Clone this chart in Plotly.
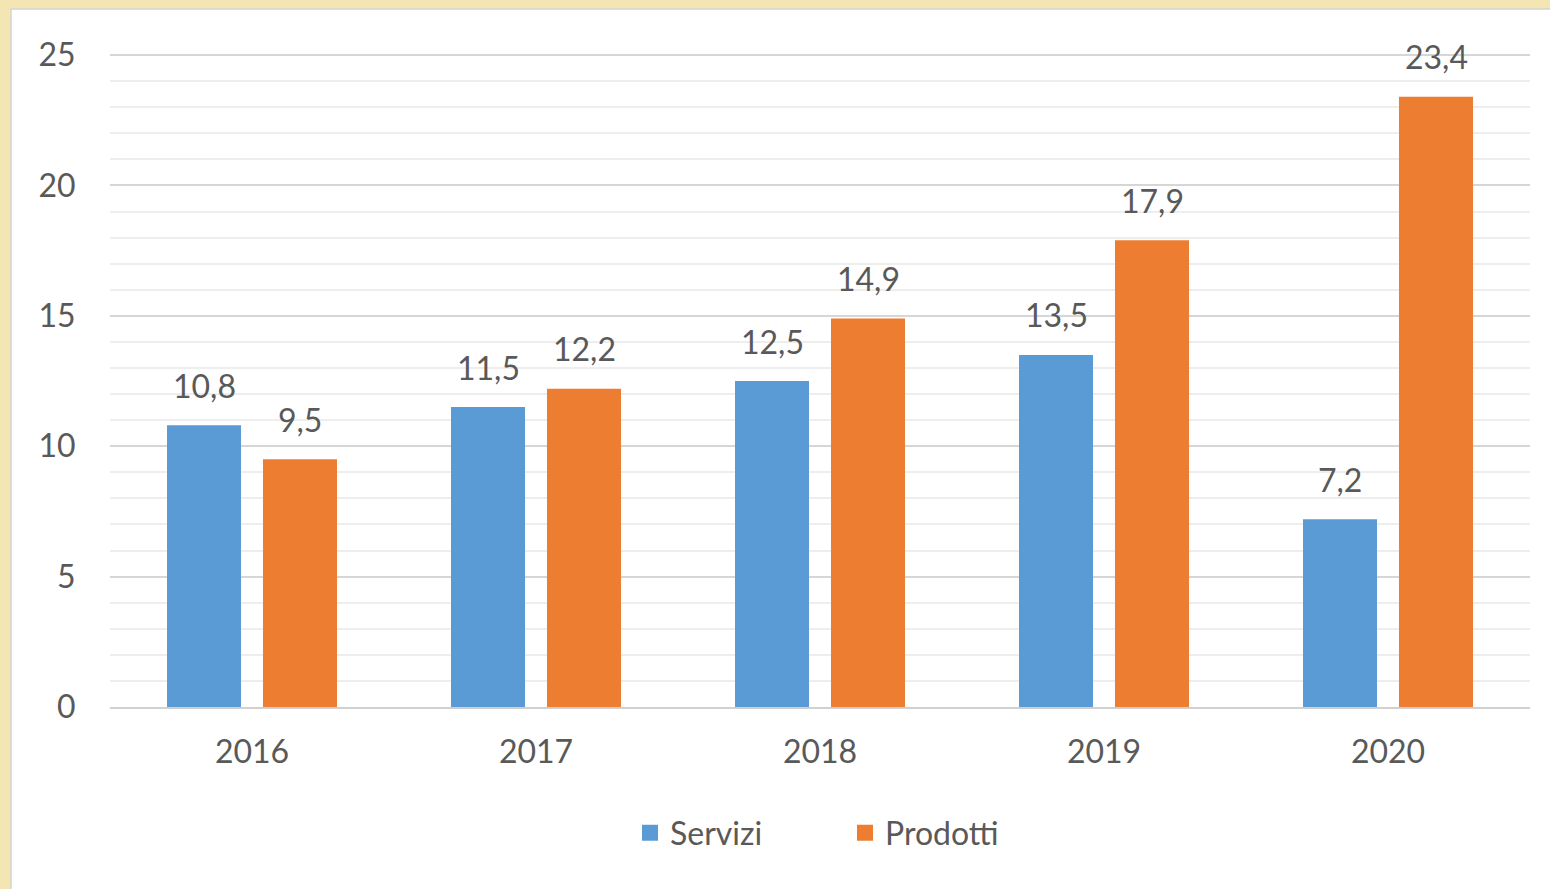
import plotly.graph_objects as go

years = ["2016", "2017", "2018", "2019", "2020"]
servizi = [10.8, 11.5, 12.5, 13.5, 7.2]
prodotti = [9.5, 12.2, 14.9, 17.9, 23.4]
series_names = ["Servizi", "Prodotti"]
colors = ["#5B9BD5", "#ED7D31"]

W, H = 1550, 889
L, R, T, B = 110, 20, 53, 182
BARGAP = 0.324
BARGROUPGAP = 0.229
FONT = "Lato"
TXT = "#595959"

def px(x):
    return (x - L) / (W - L - R)

def py(y):
    return (H - B - y) / (H - T - B)

fig = go.Figure()
for name, vals, col in zip(series_names, [servizi, prodotti], colors):
    fig.add_trace(go.Bar(x=years, y=vals, name=name, marker=dict(color=col, line=dict(width=0)),
                         showlegend=False, hoverinfo="skip"))
    fig.add_trace(go.Scatter(x=[None], y=[None], mode="markers", name=name,
                             marker=dict(symbol="square", size=20, color=col), showlegend=True))

slot = (1 - BARGAP) / 2
annotations = []
for k, vals in enumerate([servizi, prodotti]):
    off = -slot / 2 if k == 0 else slot / 2
    for j, v in enumerate(vals):
        annotations.append(dict(x=j + off, y=v, xref="x", yref="y",
                                text=f"{v:.1f}".replace(".", ","), showarrow=False,
                                yanchor="middle", yshift=40,
                                font=dict(family=FONT, size=32, color=TXT)))

fig.update_layout(
    width=W, height=H,
    margin=dict(l=L, r=R, t=T, b=B),
    paper_bgcolor="#F4E6B2",
    plot_bgcolor="rgba(0,0,0,0)",
    barmode="group", bargap=BARGAP, bargroupgap=BARGROUPGAP,
    separators=",.",
    font=dict(family=FONT, size=32, color=TXT),
    annotations=annotations,
    shapes=[dict(type="rect", xref="paper", yref="paper", layer="below",
                 x0=px(11), x1=px(W + 20), y0=py(H + 20), y1=py(9),
                 fillcolor="white", line=dict(color="#D4D4D4", width=1.5))],
    legend=dict(orientation="h", x=px(630), xanchor="left", y=py(833), yanchor="middle",
                font=dict(family=FONT, size=32, color=TXT), bgcolor="rgba(0,0,0,0)",
                itemwidth=30, tracegroupgap=0, entrywidth=170, entrywidthmode="pixels"),
    xaxis=dict(type="category", showgrid=False, showline=True, linecolor="#D0D0D0", linewidth=2,
               ticks="outside", ticklen=16, tickcolor="rgba(0,0,0,0)",
               tickfont=dict(family=FONT, size=32, color=TXT), zeroline=False),
    yaxis=dict(range=[0, 25.08], dtick=5, showgrid=True, gridcolor="#D6D6D6", gridwidth=2,
               zeroline=False, showline=False,
               ticks="outside", ticklen=27, tickcolor="rgba(0,0,0,0)",
               tickfont=dict(family=FONT, size=32, color=TXT),
               minor=dict(dtick=1, showgrid=True, gridcolor="#EEEEEE", gridwidth=1.5)),
)

fig.write_html("out.html")
